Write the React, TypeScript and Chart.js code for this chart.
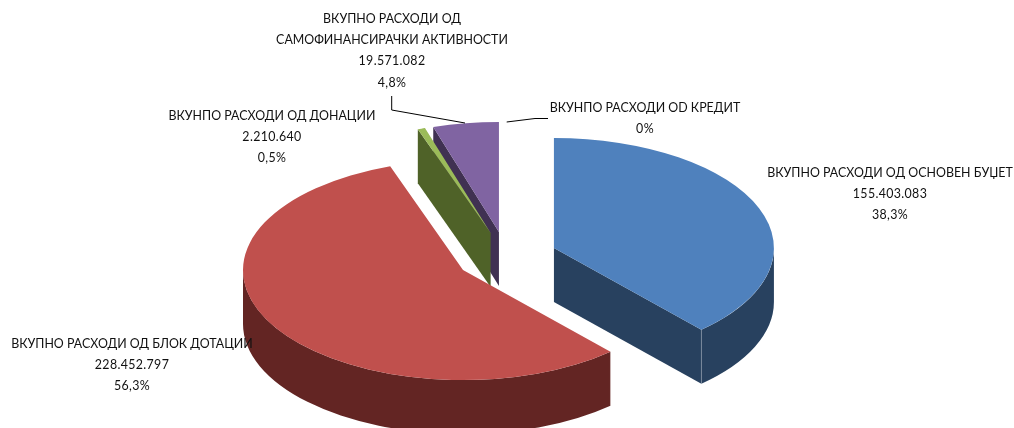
import React, { useEffect, useRef } from "react";
import { Chart, registerables } from "chart.js";

Chart.register(...registerables);

const categories = [
  ["ВКУПНО РАСХОДИ ОД ОСНОВЕН БУЏЕТ"],
  ["ВКУПНО РАСХОДИ ОД БЛОК ДОТАЦИИ"],
  ["ВКУНПО РАСХОДИ ОД ДОНАЦИИ"],
  ["ВКУПНО РАСХОДИ ОД", "САМОФИНАНСИРАЧКИ АКТИВНОСТИ"],
  ["ВКУНПО РАСХОДИ ОD КРЕДИТ"],
];
const values = [155403083, 228452797, 2210640, 19571082, 0];
const valueLabels = ["155.403.083", "228.452.797", "2.210.640", "19.571.082", ""];
const percentLabels = ["38,3%", "56,3%", "0,5%", "4,8%", "0%"];
const topColors = ["#4F81BD", "#C0504D", "#9BBB59", "#8064A2", "#4BACC6"];
const wallColors = ["#28415F", "#632523", "#4F6228", "#403152", "#205867"];

// Layout of the drawing, separate from the data.
const SQUASH = 0.5;
const DEPTH = 54;
const EXPLODE = 50.7;
const RADIUS = 220;
const CENTER_X = 506.6;
const CENTER_Y = 257.1;
const labelAnchors = [
  { x: 890, y: 172.5 },
  { x: 132, y: 343.5 },
  { x: 272, y: 115.5 },
  { x: 392, y: 18.5 },
  { x: 645, y: 108 },
];
const LINE_GAP = 21.4;
const leaderLines = [
  [[391.7, 96], [391.7, 110], [465, 123]],
  [[506.7, 122], [535, 118.5], [548, 118.5]],
];

const pie3d = {
  id: "pie3d",
  beforeDatasetsDraw(chart: any) {
    const ctx = chart.ctx;
    const arcs = chart.getDatasetMeta(0).data;
    const cx = (chart.chartArea.left + chart.chartArea.right) / 2;
    const cy = (chart.chartArea.top + chart.chartArea.bottom) / 2;
    // Explode every slice along its own middle angle.
    arcs.forEach((arc: any) => {
      const mid = (arc.startAngle + arc.endAngle) / 2;
      arc.x = cx + Math.cos(mid) * EXPLODE;
      arc.y = cy + Math.sin(mid) * EXPLODE;
    });
    const project = (x: number, y: number) => [
      x + (CENTER_X - cx),
      CENTER_Y + (y - cy) * SQUASH,
    ];
    // back slices first, so the walls overlap as in a solid
    [3, 2, 1, 0].forEach((i) => {
      const arc = arcs[i];
      const { startAngle: a0, endAngle: a1, outerRadius: R, x, y } = arc;
      if (a1 - a0 <= 0) return;
      const apex = project(x, y);
      const rim = (t: number) => project(x + Math.cos(t) * R, y + Math.sin(t) * R);
      ctx.save();
      ctx.fillStyle = wallColors[i];
      const wall = (t: number) => {
        const p = rim(t);
        ctx.beginPath();
        ctx.moveTo(apex[0], apex[1]);
        ctx.lineTo(p[0], p[1]);
        ctx.lineTo(p[0], p[1] + DEPTH);
        ctx.lineTo(apex[0], apex[1] + DEPTH);
        ctx.closePath();
        ctx.fill();
      };
      if (-Math.cos(a0) > 0) wall(a0);
      if (Math.cos(a1) > 0) wall(a1);
      const s = Math.max(a0, 0);
      const e = Math.min(a1, Math.PI);
      if (e > s) {
        ctx.beginPath();
        ctx.ellipse(apex[0], apex[1], R, R * SQUASH, 0, s, e, false);
        ctx.ellipse(apex[0], apex[1] + DEPTH, R, R * SQUASH, 0, e, s, true);
        ctx.closePath();
        ctx.fill();
      }
      ctx.strokeStyle = "rgba(255,255,255,0.22)";
      ctx.lineWidth = 1;
      [a0, a1].forEach((t) => {
        if (Math.sin(t) > 0.05) {
          const p = rim(t);
          ctx.beginPath();
          ctx.moveTo(p[0], p[1]);
          ctx.lineTo(p[0], p[1] + DEPTH);
          ctx.stroke();
        }
      });
      ctx.restore();
    });
    ctx.save();
    ctx.translate(CENTER_X - cx, CENTER_Y);
    ctx.scale(1, SQUASH);
    ctx.translate(0, -cy);
  },
  afterDatasetsDraw(chart: any) {
    chart.ctx.restore();
  },
  afterDraw(chart: any) {
    const ctx = chart.ctx;
    ctx.save();
    ctx.strokeStyle = "#000000";
    ctx.lineWidth = 1;
    leaderLines.forEach((pts) => {
      ctx.beginPath();
      pts.forEach((p, i) => (i ? ctx.lineTo(p[0], p[1]) : ctx.moveTo(p[0], p[1])));
      ctx.stroke();
    });
    ctx.fillStyle = "#111111";
    ctx.font = "400 12.4px Lato";
    ctx.textAlign = "center";
    ctx.textBaseline = "middle";
    categories.forEach((lines, i) => {
      const rows = [...lines, valueLabels[i], percentLabels[i]].filter(Boolean);
      rows.forEach((row, r) => {
        ctx.letterSpacing = r >= lines.length ? "0.35px" : "0px";
        ctx.fillText(row, labelAnchors[i].x, labelAnchors[i].y + r * LINE_GAP);
      });
    });
    ctx.restore();
  },
};

export default function App() {
  const ref = useRef<HTMLCanvasElement>(null);
  useEffect(() => {
    const chart = new Chart(ref.current as HTMLCanvasElement, {
      type: "pie",
      data: {
        labels: categories.map((c) => c.join(" ")),
        datasets: [
          {
            data: values,
            backgroundColor: topColors,
            borderWidth: 0,
            clip: false,
          } as any,
        ],
      },
      options: {
        responsive: false,
        animation: false,
        radius: RADIUS,
        layout: { padding: 0 },
        plugins: { legend: { display: false }, tooltip: { enabled: false } },
      } as any,
      plugins: [pie3d],
    });
    return () => chart.destroy();
  }, []);
  return (
    <div style={{ position: "fixed", left: 0, top: 0, width: 1014, height: 428, background: "#fff" }}>
      <canvas ref={ref} width={1014} height={428} style={{ display: "block" }} />
    </div>
  );
}
